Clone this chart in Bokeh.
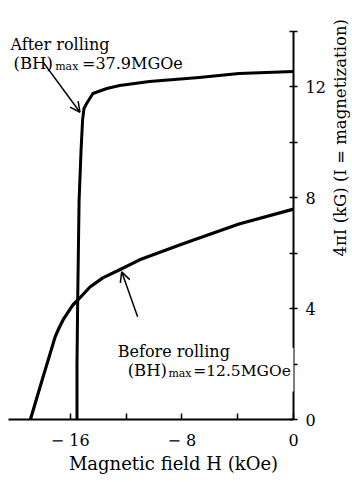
import math
from bokeh.plotting import figure
from bokeh.layouts import row, column
from bokeh.models import Label, Arrow, OpenHead, FixedTicker, BoxAnnotation, Range1d
from bokeh.embed import file_html
from bokeh.resources import INLINE

# ---- data ----
after_H = [-15.52, -15.52, -15.47, -15.37, -15.23, -15.12, -15.02, -14.83, -14.38, -13.38, -12.46, -10.32, -6.76, -3.91, 0.0]
after_I = [0.0, 2.0, 4.3, 7.9, 9.7, 10.8, 11.22, 11.4, 11.76, 11.94, 12.05, 12.19, 12.34, 12.48, 12.55]

before_H = [-18.86, -18.01, -17.08, -16.8, -16.51, -15.8, -15.44, -14.59, -13.67, -12.46, -11.03, -7.97, -3.91, 0.0]
before_I = [0.0, 1.44, 2.99, 3.31, 3.6, 4.14, 4.32, 4.78, 5.11, 5.4, 5.76, 6.33, 7.05, 7.59]

x_ticks = [-16, -12, -8, -4, 0]
x_tick_labels = {-16: "\u2212 16", -12: "", -8: "\u2212 8", -4: "", 0: "0"}
y_ticks = [0, 2, 4, 6, 8, 10, 12, 14]
y_tick_labels = {0: "0", 2: "", 4: "4", 6: "", 8: "8", 10: "", 12: "12", 14: ""}
y_axis_top = 14

x_title = "Magnetic field H (kOe)"
y_title = "4\u03c0I (kG) (I  =  magnetization)"

# ---- layout geometry (pixels) ----
W, H = 328, 452          # main plot
SIDE_W = 352 - W          # strip for the vertical title
BOT_H = 482 - H           # strip for the horizontal title
BL, BR, BT, BB = 8, W - 295, 0, H - 420
FW, FH = W - BL - BR, H - BT - BB

X0, X1 = -20.43, 0.0
Y0 = 0.0
Y1 = y_axis_top * FH / 389.0   # axis top (14) sits 31 px below the window top

def hx(px):
    return X0 + (px - BL) / FW * (X1 - X0)

def iy(py):
    return Y1 - (py - BT) / FH * (Y1 - Y0)

FONT = "DejaVu Serif"

p = figure(width=W, height=H, x_range=Range1d(X0, X1), y_range=Range1d(Y0, Y1),
           output_backend="svg", toolbar_location=None, y_axis_location="right",
           min_border_left=BL, min_border_right=BR, min_border_top=BT, min_border_bottom=BB)
p.outline_line_color = None
p.grid.grid_line_color = None
p.background_fill_color = "white"
p.border_fill_color = "white"

# curves
p.line(after_H, after_I, line_color="black", line_width=3, line_join="round")
p.line(before_H, before_I, line_color="black", line_width=3.2, line_join="round")

# x axis
xa = p.xaxis[0]
xa.ticker = FixedTicker(ticks=x_ticks)
xa.major_label_overrides = x_tick_labels
xa.axis_line_width = 2
xa.major_tick_in = 6
xa.major_tick_out = 0
xa.major_tick_line_width = 1.5
xa.minor_tick_line_color = None
xa.major_label_standoff = 11
xa.major_label_text_font = FONT
xa.major_label_text_font_size = "16px"
xa.major_label_text_color = "black"

# y axis (right)
ya = p.yaxis[0]
ya.ticker = FixedTicker(ticks=y_ticks)
ya.major_label_overrides = y_tick_labels
ya.bounds = (0, y_axis_top)
ya.axis_line_width = 2
ya.major_tick_in = 4
ya.major_tick_out = 4
ya.major_tick_line_width = 1.5
ya.minor_tick_line_color = None
ya.major_label_standoff = 8
ya.major_label_text_font = FONT
ya.major_label_text_font_size = "16px"
ya.major_label_text_color = "black"

# gap in the right axis behind the lower annotation
p.add_layout(BoxAnnotation(left=hx(286), right=hx(304), bottom=iy(392), top=iy(348),
                           fill_color="white", fill_alpha=1.0, line_color=None))

def lab(px, py, text, size="16px", align="left", baseline="alphabetic"):
    p.add_layout(Label(x=hx(px), y=iy(py), text=text, text_font=FONT, text_font_size=size,
                       text_align=align, text_baseline=baseline, text_color="black"))

# After rolling annotation
lab(10, 44, "After rolling")
lab(13, 63, "(BH)", size="16.5px")
lab(55, 66, "max", size="11px")
lab(82, 63, "=37.9MGOe")
p.add_layout(Arrow(end=OpenHead(size=10, line_width=1.5, line_color="black"),
                   x_start=hx(43), y_start=iy(62), x_end=hx(80), y_end=iy(112),
                   line_width=1.5, line_color="black"))

# Before rolling annotation
lab(118, 352, "Before rolling")
lab(128, 371, "(BH)", size="16.5px")
lab(169, 374, "max", size="11px")
lab(194, 371, "=12.5MGOe", size="15.5px")
p.add_layout(Arrow(end=OpenHead(size=10, line_width=1.5, line_color="black"),
                   x_start=hx(138), y_start=iy(317), x_end=hx(122), y_end=iy(272),
                   line_width=1.5, line_color="black"))

# strip below: horizontal axis title
xfig = figure(width=W, height=BOT_H, x_range=Range1d(0, 1), y_range=Range1d(0, 1),
              output_backend="svg", toolbar_location=None, min_border=0,
              x_axis_location=None, y_axis_location=None)
xfig.outline_line_color = None
xfig.grid.grid_line_color = None
xfig.add_layout(Label(x=173, y=463 - H, x_units="canvas", y_units="canvas", text=x_title,
                      text_font=FONT, text_font_size="18px", text_align="center",
                      text_baseline="middle", text_color="black"))

# strip at the right: vertical axis title
yfig = figure(width=SIDE_W, height=H + BOT_H, x_range=Range1d(0, 1), y_range=Range1d(0, 1),
              output_backend="svg", toolbar_location=None, min_border=0,
              x_axis_location=None, y_axis_location=None)
yfig.outline_line_color = None
yfig.grid.grid_line_color = None
yfig.add_layout(Label(x=340 - W, y=132, x_units="canvas", y_units="canvas", text=y_title,
                      text_font=FONT, text_font_size="16.5px", text_align="center",
                      text_baseline="middle", angle=math.pi / 2, text_color="black"))

layout = row(column(p, xfig, spacing=0), yfig, spacing=0)
open("out.html", "w").write(file_html(layout, INLINE))
